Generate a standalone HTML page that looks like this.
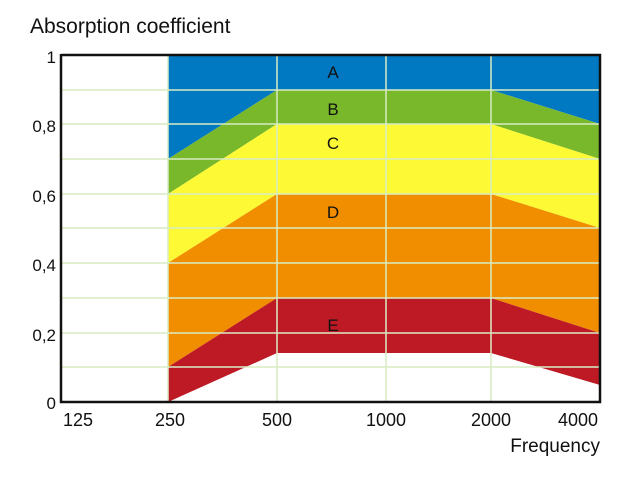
<!DOCTYPE html><html><head><style>body{margin:0;background:#fff}svg{display:block}</style></head><body>
<svg width="638" height="479" viewBox="0 0 638 479" xmlns="http://www.w3.org/2000/svg" font-family="Liberation Sans, Arial, sans-serif">
<rect width="638" height="479" fill="#fff"/>
<text x="30" y="33" font-size="21" fill="#111">Absorption coefficient</text>
<polygon fill="#0079c2" points="168,55 600,55 600,124 491,90 277,90 168,159"/>
<polygon fill="#78b82a" points="168,159 277,90 491,90 600,124 600,159 491,124 277,124 168,194"/>
<polygon fill="#fdfa35" points="168,194 277,124 491,124 600,159 600,228 491,194 277,194 168,263"/>
<polygon fill="#f08e00" points="168,263 277,194 491,194 600,228 600,333 491,298 277,298 168,367"/>
<polygon fill="#be1a25" points="168,367 277,298 491,298 600,333 600,385 491,353 277,353 168,402"/>
<g stroke="#d8ecc4" stroke-width="1.5">
<line x1="61" y1="90" x2="600" y2="90"/><line x1="61" y1="124" x2="600" y2="124"/>
<line x1="61" y1="159" x2="600" y2="159"/><line x1="61" y1="194" x2="600" y2="194"/>
<line x1="61" y1="228" x2="600" y2="228"/><line x1="61" y1="263" x2="600" y2="263"/>
<line x1="61" y1="298" x2="600" y2="298"/><line x1="61" y1="333" x2="600" y2="333"/>
<line x1="61" y1="367" x2="600" y2="367"/>
<line x1="168" y1="55" x2="168" y2="402"/><line x1="277" y1="55" x2="277" y2="402"/>
<line x1="386" y1="55" x2="386" y2="402"/><line x1="491" y1="55" x2="491" y2="402"/>
</g>
<polyline fill="none" stroke="#111" stroke-width="2.5" points="61,55 600,55 600,402 61,402 61,54"/>
<g font-size="17" fill="#111" text-anchor="end">
<text x="56" y="63">1</text><text x="56" y="132">0,8</text><text x="56" y="202">0,6</text>
<text x="56" y="271">0,4</text><text x="56" y="341">0,2</text><text x="56" y="409">0</text>
</g>
<g font-size="18" fill="#111" text-anchor="middle">
<text x="78" y="426">125</text><text x="170" y="426">250</text><text x="277" y="426">500</text>
<text x="386" y="426">1000</text><text x="491" y="426">2000</text><text x="578" y="426">4000</text>
</g>
<g font-size="17" fill="#111" text-anchor="middle">
<text x="333" y="78">A</text><text x="333" y="115">B</text><text x="333" y="149">C</text>
<text x="333" y="218">D</text><text x="333" y="331">E</text>
</g>
<text x="600" y="452" font-size="19" fill="#111" text-anchor="end">Frequency</text>
</svg></body></html>
